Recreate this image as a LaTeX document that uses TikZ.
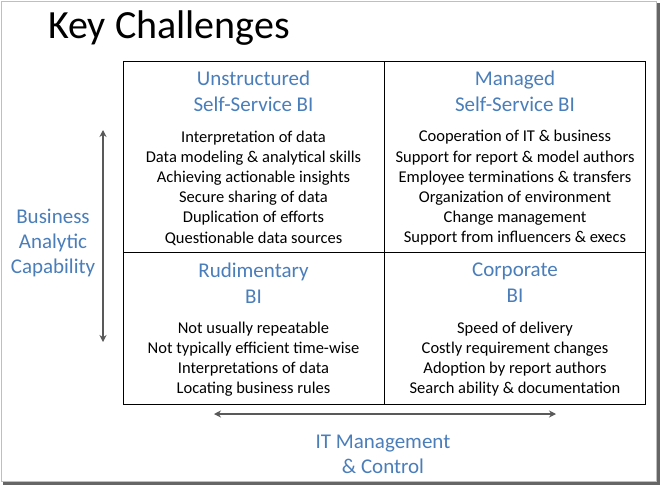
\documentclass[tikz,border=0pt]{standalone}
\usepackage{fontspec}
\setmainfont{Carlito}
\usepackage{xcolor}
\usetikzlibrary{arrows.meta,positioning}
\definecolor{headcol}{HTML}{4A7EBB}
\definecolor{arrcol}{HTML}{595959}

\begin{document}
\begin{tikzpicture}[x=1pt,y=-1pt,
  quad/.style={draw,line width=1.3pt,minimum width=261pt,minimum height=191pt,anchor=north west,inner sep=0pt},
  head/.style={align=center,text=headcol,font=\fontsize{21}{26}\selectfont},
  body/.style={align=center,font=\fontsize{16.5}{20.2}\selectfont},
  axis/.style={align=center,text=headcol,font=\fontsize{21}{24.7}\selectfont},
  dbl/.style={{Stealth[length=7pt,width=7pt]}-{Stealth[length=7pt,width=7pt]},line width=1.3pt,arrcol}]
  \useasboundingbox (0,0) rectangle (663,487);
  % slide with shadow
  \fill[black!60] (3,3) rectangle (660,485);
  \filldraw[fill=white,draw=black!25,line width=0.8pt] (1,1) rectangle (656,481);
  \node[font=\fontsize{40}{48}\selectfont] (title) at (169,28) {Key Challenges};
  % quadrants
  \node[quad] (uq) at (123,61) {};
  \node[quad] (mq) at (384,61) {};
  \node[quad,minimum height=152pt] (rq) at (123,252) {};
  \node[quad,minimum height=152pt] (cq) at (384,252) {};
  \node[head] (uhead) at (253.5,91) {Unstructured\\Self-Service BI};
  \node[head] (mhead) at (515,91) {Managed\\Self-Service BI};
  \node[head] (rhead) at (253.5,283) {Rudimentary\\BI};
  \node[head] (chead) at (515,283) {Corporate\\BI};
  \node[body] (ubody) at (253.5,188) {Interpretation of data\\Data modeling \& analytical skills\\Achieving actionable insights\\Secure sharing of data\\Duplication of efforts\\Questionable data sources};
  \node[body] (mbody) at (515,188) {Cooperation of IT \& business\\Support for report \& model authors\\Employee terminations \& transfers\\Organization of environment\\Change management\\Support from influencers \& execs};
  \node[body] (rbody) at (253.5,359) {Not usually repeatable\\Not typically efficient time-wise\\Interpretations of data\\Locating business rules};
  \node[body] (cbody) at (515,359) {Speed of delivery\\Costly requirement changes\\Adoption by report authors\\Search ability \& documentation};
  % axes
  \coordinate (vtop) at (103,130);
  \coordinate (vbot) at (103,342);
  \coordinate (hleft) at (214,414);
  \coordinate (hright) at (556,414);
  \draw[dbl] (vtop)--(vbot);
  \draw[dbl] (hleft)--(hright);
  \node[axis] (bac) at (53,243) {Business\\Analytic\\Capability};
  \node[axis] (itm) at (383,454) {IT Management\\\& Control};
\end{tikzpicture}
\end{document}
